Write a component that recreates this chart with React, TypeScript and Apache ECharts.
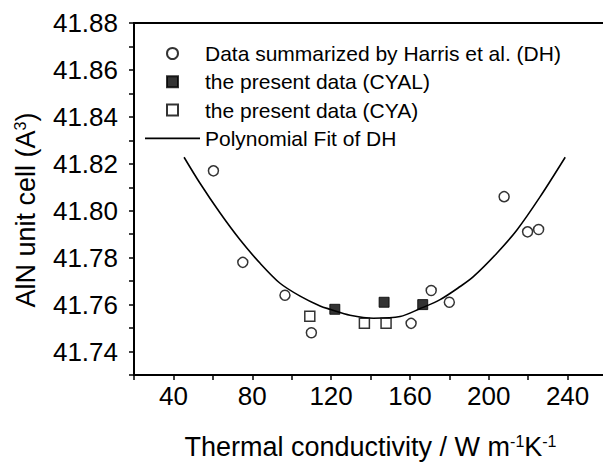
import React, { useEffect, useRef } from "react";
import * as echarts from "echarts";

// Data summarized by Harris et al. (DH)
const dhX = [60.3, 75.2, 96.6, 110.0, 160.6, 170.8, 180.0, 207.8, 219.7, 225.3];
const dhY = [41.817, 41.778, 41.764, 41.748, 41.752, 41.766, 41.761, 41.806, 41.791, 41.792];
// the present data (CYAL)
const cyalX = [121.9, 146.9, 166.5];
const cyalY = [41.758, 41.761, 41.760];
// the present data (CYA)
const cyaX = [109.2, 136.9, 147.9];
const cyaY = [41.755, 41.752, 41.752];
// Polynomial fit of DH
const fitX = [45.4, 53.5, 63.7, 73.8, 84.0, 94.1, 104.3, 114.4, 119.5, 129.6, 141.5, 155.0, 165.2, 175.3, 185.5, 192.2, 204.1, 214.3, 226.1, 238.8];
const fitY = [41.8228, 41.8117, 41.7990, 41.7876, 41.7776, 41.7691, 41.7636, 41.7594, 41.7580, 41.7555, 41.7542, 41.7549, 41.7583, 41.7621, 41.7677, 41.7719, 41.7819, 41.7918, 41.8060, 41.8228];

const seriesNames = [
  "Data summarized by Harris et al. (DH)",
  "the present data (CYAL)",
  "the present data (CYA)",
  "Polynomial Fit of DH",
];

const xTickLabels = [40, 80, 120, 160, 200, 240];
const yTickLabels = ["41.74", "41.76", "41.78", "41.80", "41.82", "41.84", "41.86", "41.88"];

const FONT = "'Liberation Sans', Arial, Helvetica, sans-serif";

const zip = (xs: number[], ys: number[]) => xs.map((x, i) => [x, ys[i]]);

export default function App() {
  const ref = useRef<HTMLDivElement>(null);
  useEffect(() => {
    if (!ref.current) return;
    const chart = echarts.init(ref.current, null, { renderer: "svg" });
    const squarePath = "path://M0,0L10,0L10,10L0,10Z";
    const linePath = "path://M0,0L55,0L55,1.6L0,1.6Z";
    chart.setOption({
      animation: false,
      backgroundColor: "#fff",
      textStyle: { fontFamily: FONT, color: "#000" },
      grid: {
        left: 134,
        top: 23,
        right: -4,
        bottom: 88,
        show: true,
        containLabel: false,
        outerBoundsMode: "none",
        borderColor: "#000",
        borderWidth: 2,
        backgroundColor: "transparent",
      },
      legend: {
        orient: "vertical",
        left: 140,
        top: 38,
        itemWidth: 55,
        itemHeight: 11,
        itemGap: 7.3,
        textStyle: { fontFamily: FONT, fontSize: 21, color: "#000" },
        data: [
          { name: seriesNames[0], icon: "circle" },
          { name: seriesNames[1], icon: squarePath },
          { name: seriesNames[2], icon: squarePath },
          { name: seriesNames[3], icon: linePath, itemStyle: { color: "#000", borderWidth: 0 } },
        ],
      },
      xAxis: {
        type: "value",
        min: 20,
        max: 260,
        interval: 20,
        name: "Thermal conductivity / W m{sup|-1}K{sup|-1}",
        nameLocation: "middle",
        nameGap: 58,
        nameTextStyle: {
          fontFamily: FONT,
          fontSize: 27,
          color: "#000",
          rich: {
            sup: { fontFamily: FONT, fontSize: 16, verticalAlign: "top", color: "#000" },
          },
        },
        axisLine: { show: true, lineStyle: { color: "#000", width: 2 } },
        axisTick: { show: true, inside: false, length: 5, lineStyle: { color: "#000", width: 1.5 } },
        axisLabel: {
          margin: 8,
          fontFamily: FONT,
          fontSize: 26,
          color: "#000",
          formatter: (v: number) => (xTickLabels.includes(Math.round(v)) ? String(Math.round(v)) : ""),
        },
        splitLine: { show: false },
      },
      yAxis: {
        type: "value",
        min: 41.73,
        max: 41.88,
        interval: 0.01,
        name: "AlN unit cell (A{sup|3})",
        nameLocation: "middle",
        nameGap: 95,
        nameTextStyle: {
          fontFamily: FONT,
          fontSize: 27,
          color: "#000",
          padding: [0, 22, 0, 0],
          rich: {
            sup: { fontFamily: FONT, fontSize: 16, verticalAlign: "top", color: "#000" },
          },
        },
        axisLine: { show: true, lineStyle: { color: "#000", width: 2 } },
        axisTick: { show: true, inside: false, length: 5, lineStyle: { color: "#000", width: 1.5 } },
        axisLabel: {
          margin: 16,
          fontFamily: FONT,
          fontSize: 26,
          color: "#000",
          formatter: (v: number) => {
            const s = v.toFixed(2);
            return yTickLabels.includes(s) ? s : "";
          },
        },
        splitLine: { show: false },
      },
      series: [
        {
          name: seriesNames[0],
          type: "scatter",
          symbol: "circle",
          symbolSize: 10,
          itemStyle: { color: "#fff", borderColor: "#000", borderWidth: 1.5 },
          data: zip(dhX, dhY),
          z: 3,
        },
        {
          name: seriesNames[1],
          type: "scatter",
          symbol: "rect",
          symbolSize: 10,
          itemStyle: { color: "#000", borderColor: "#000", borderWidth: 1 },
          data: zip(cyalX, cyalY),
          z: 3,
        },
        {
          name: seriesNames[2],
          type: "scatter",
          symbol: "rect",
          symbolSize: 10,
          itemStyle: { color: "#fff", borderColor: "#000", borderWidth: 1.5 },
          data: zip(cyaX, cyaY),
          z: 3,
        },
        {
          name: seriesNames[3],
          type: "line",
          symbol: "none",
          showSymbol: false,
          smooth: 0.3,
          lineStyle: { color: "#000", width: 1.6 },
          itemStyle: { color: "#000" },
          data: zip(fitX, fitY),
          z: 2,
        },
      ],
    });
    return () => chart.dispose();
  }, []);
  return (
    <div
      ref={ref}
      style={{ position: "fixed", left: 0, top: 0, width: 603, height: 463, background: "#fff" }}
    />
  );
}
